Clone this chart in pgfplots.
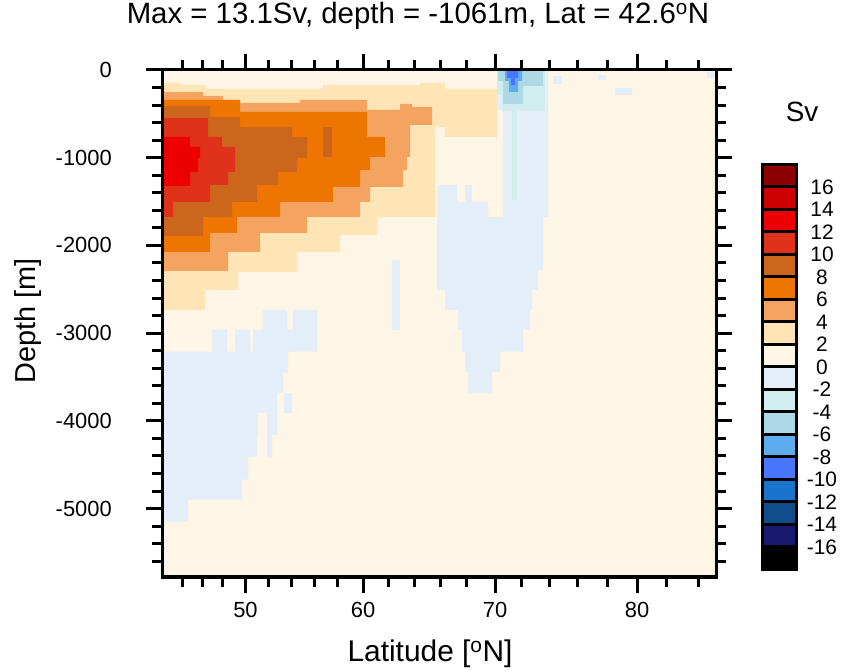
\documentclass[border=0pt]{standalone}
\usepackage{pgfplots}
\pgfplotsset{compat=1.18}
\usepackage{fontspec}
\setmainfont{Liberation Sans}

\definecolor{c0}{HTML}{FDF5E6}
\definecolor{p2}{HTML}{FFE4B5}
\definecolor{p4}{HTML}{F4A460}
\definecolor{p6}{HTML}{EE7600}
\definecolor{p8}{HTML}{CD661D}
\definecolor{p10}{HTML}{E0321A}
\definecolor{p12}{HTML}{EE0000}
\definecolor{p14}{HTML}{CD0000}
\definecolor{p16}{HTML}{8B0000}
\definecolor{n0}{HTML}{E4EEF8}
\definecolor{n2}{HTML}{D1EEEE}
\definecolor{n4}{HTML}{ADD8E6}
\definecolor{n6}{HTML}{5CACEE}
\definecolor{n8}{HTML}{4876FF}
\definecolor{n10}{HTML}{1874CD}
\definecolor{n12}{HTML}{104E8B}
\definecolor{n14}{HTML}{191970}
\definecolor{n16}{HTML}{000000}

\begin{document}
\begin{tikzpicture}
\useasboundingbox (0,0) rectangle (844bp,672bp);
\begin{axis}[
  at={(162bp,95bp)}, anchor=south west,
  scale only axis, width=554bp, height=507bp,
  xmin=162, xmax=716, ymin=-5780, ymax=0,
  axis on top,
  axis line style={line width=3bp},
  every tick/.style={line width=3bp, black},
  tick align=outside,
  major tick length=16bp, minor tick length=10bp,
  xtick={245.5,363,495,637}, xticklabels={50,60,70,80},
  minor xtick={182.5,202.8,222.5,268,291,314,337,388.5,414,440.5,466,521.5,549,577.5,607,666.5,698.7},
  ytick={-5000,-4000,-3000,-2000,-1000,0},
  yticklabels={-5000,-4000,-3000,-2000,-1000,0},
  minor ytick={-5600,-5400,-5200,-4800,-4600,-4400,-4200,-3800,-3600,-3400,-3200,-2800,-2600,-2400,-2200,-1800,-1600,-1400,-1200,-800,-600,-400,-200},
  xticklabel style={font=\fontsize{22}{22}\selectfont, anchor=center, inner sep=0pt, yshift=-17bp},
  yticklabel style={font=\fontsize{22}{22}\selectfont, anchor=east, inner sep=0pt, xshift=-34bp},
  xlabel={Latitude [\textsuperscript{o}N]},
  ylabel={Depth [m]},
  xlabel style={font=\fontsize{30}{30}\selectfont, at={(axis description cs:0.4838,-0.152)}, anchor=center},
  ylabel style={font=\fontsize{29}{29}\selectfont, at={(axis description cs:-0.2419,0.505)}, anchor=center},
  title={Max = 13.1Sv, depth = -1061m, Lat = 42.6\textsuperscript{o}N},
  title style={font=\fontsize{29.5}{29.5}\selectfont, at={(axis description cs:0.462,1.0947)}, anchor=center},
]
% background 0..2
\addplot[fill=c0, draw=none] coordinates {(162,0) (716,0) (716,-5780) (162,-5780)} --cycle;
% -2..0 regions
\addplot[fill=n0, draw=none] coordinates {(162,-3212) (212,-3212) (212,-2961) (227,-2961) (227,-3212) (235,-3212) (235,-2961) (250,-2961) (250,-3212) (253,-3212) (253,-2961) (263,-2961) (263,-2734) (287,-2734) (287,-2961) (293,-2961) (293,-2734) (317,-2734) (317,-3212) (288,-3212) (288,-3451) (283,-3451) (283,-3679) (277,-3679) (277,-3907) (258,-3907) (258,-4157) (257,-4157) (257,-4408) (248,-4408) (248,-4670) (242,-4670) (242,-4898) (188,-4898) (188,-5148) (162,-5148)} --cycle;
\addplot[fill=n0, draw=none] coordinates {(267,-3907) (277,-3907) (277,-4157) (272,-4157) (272,-4408) (267,-4408)} --cycle;
\addplot[fill=n0, draw=none] coordinates {(284,-3679) (292,-3679) (292,-3907) (284,-3907)} --cycle;
\addplot[fill=n0, draw=none] coordinates {(392,-2164) (400,-2164) (400,-2961) (392,-2961)} --cycle;
\addplot[fill=n0, draw=none] coordinates {(497,0) (548,0) (548,-1674) (543,-1674) (543,-2278) (538,-2278) (538,-2506) (532,-2506) (532,-2734) (530,-2734) (530,-2961) (523,-2961) (523,-3212) (500,-3212) (500,-3440) (492,-3440) (492,-3679) (468,-3679) (468,-3440) (465,-3440) (465,-3212) (462,-3212) (462,-2961) (458,-2961) (458,-2734) (445,-2734) (445,-2506) (437,-2506) (437,-1310) (457,-1310) (457,-1503) (488,-1503) (488,-1674) (503,-1674) (503,-456) (497,-456)} --cycle;
\addplot[fill=n0, draw=none] coordinates {(465,-1310) (472,-1310) (472,-1503) (465,-1503)} --cycle;
\addplot[fill=n0, draw=none] coordinates {(553,-68) (562,-68) (562,-160) (553,-160)} --cycle;
\addplot[fill=n0, draw=none] coordinates {(598,-57) (606,-57) (606,-114) (598,-114)} --cycle;
\addplot[fill=n0, draw=none] coordinates {(615,-205) (632,-205) (632,-285) (615,-285)} --cycle;
\addplot[fill=n0, draw=none] coordinates {(707,-23) (714,-23) (714,-91) (707,-91)} --cycle;
% plume
\addplot[fill=n2, draw=none] coordinates {(497,0) (545,0) (545,-467) (517,-467) (517,-1481) (512,-1481) (512,-467) (502,-467) (502,-285) (497,-285)} --cycle;
\addplot[fill=n4, draw=none] coordinates {(498,0) (543,0) (543,-182) (523,-182) (523,-387) (503,-387) (503,-125) (498,-125)} --cycle;
\addplot[fill=n6, draw=none] coordinates {(505,0) (522,0) (522,-125) (518,-125) (518,-250) (509,-250) (509,-125) (505,-125)} --cycle;
\addplot[fill=n8, draw=none] coordinates {(507,0) (518,0) (518,-91) (515,-91) (515,-170) (511,-170) (511,-91) (507,-91)} --cycle;
% 2..4
\addplot[fill=p2, draw=none] coordinates {(162,-148) (180,-148) (180,-171) (205,-171) (205,-216) (323,-216) (323,-171) (420,-171) (420,-148) (445,-148) (445,-216) (497,-216) (497,-763) (445,-763) (445,-649) (435,-649) (435,-1674) (377,-1674) (377,-1879) (340,-1879) (340,-2073) (297,-2073) (297,-2301) (238,-2301) (238,-2506) (205,-2506) (205,-2734) (162,-2734)} --cycle;
% 4..6
\addplot[fill=p4, draw=none] coordinates {(162,-251) (203,-251) (203,-296) (223,-296) (223,-342) (240,-342) (240,-376) (300,-376) (300,-342) (367,-342) (367,-456) (400,-456) (400,-387) (412,-387) (412,-421) (432,-421) (432,-626) (410,-626) (410,-991) (407,-991) (407,-1139) (403,-1139) (403,-1333) (370,-1333) (370,-1503) (360,-1503) (360,-1674) (307,-1674) (307,-1857) (260,-1857) (260,-2073) (228,-2073) (228,-2289) (162,-2289)} --cycle;
% 6..8
\addplot[fill=p6, draw=none] coordinates {(162,-342) (240,-342) (240,-478) (367,-478) (367,-763) (385,-763) (385,-991) (370,-991) (370,-1139) (360,-1139) (360,-1333) (333,-1333) (333,-1503) (280,-1503) (280,-1674) (237,-1674) (237,-1857) (210,-1857) (210,-2073) (162,-2073)} --cycle;
% 8..10
\addplot[fill=p8, draw=none] coordinates {(162,-410) (210,-410) (210,-535) (240,-535) (240,-649) (292,-649) (292,-763) (307,-763) (307,-1002) (297,-1002) (297,-1162) (278,-1162) (278,-1310) (257,-1310) (257,-1503) (232,-1503) (232,-1674) (203,-1674) (203,-1891) (162,-1891)} --cycle;
\addplot[fill=p8, draw=none] coordinates {(323,-649) (332,-649) (332,-991) (323,-991)} --cycle;
% 10..12
\addplot[fill=p10, draw=none] coordinates {(162,-547) (208,-547) (208,-763) (222,-763) (222,-877) (235,-877) (235,-1162) (228,-1162) (228,-1310) (210,-1310) (210,-1503) (173,-1503) (173,-1674) (162,-1674)} --cycle;
% 12..14
\addplot[fill=p12, draw=none] coordinates {(162,-763) (190,-763) (190,-877) (200,-877) (200,-1002) (198,-1002) (198,-1162) (190,-1162) (190,-1321) (162,-1321)} --cycle;
\end{axis}

% colour bar
\begin{axis}[
  at={(762bp,102.5bp)}, anchor=south west,
  scale only axis, width=34bp, height=405bp,
  xmin=0, xmax=1, ymin=0, ymax=18,
  clip=false, axis line style={draw=none},
  xtick=\empty,
  ytick={1,2,3,4,5,6,7,8,9,10,11,12,13,14,15,16,17},
  yticklabels={-16,-14,-12,-10,-8,-6,-4,-2,0,2,4,6,8,10,12,14,16},
  yticklabel pos=right,
  major tick length=0pt,
  yticklabel style={font=\fontsize{21}{21}\selectfont, anchor=center, inner sep=0pt, xshift=26bp},
]
\addplot[fill=n16, draw=black, line width=3bp] coordinates {(0,0) (1,0) (1,1) (0,1)} --cycle;
\addplot[fill=n14, draw=black, line width=3bp] coordinates {(0,1) (1,1) (1,2) (0,2)} --cycle;
\addplot[fill=n12, draw=black, line width=3bp] coordinates {(0,2) (1,2) (1,3) (0,3)} --cycle;
\addplot[fill=n10, draw=black, line width=3bp] coordinates {(0,3) (1,3) (1,4) (0,4)} --cycle;
\addplot[fill=n8, draw=black, line width=3bp] coordinates {(0,4) (1,4) (1,5) (0,5)} --cycle;
\addplot[fill=n6, draw=black, line width=3bp] coordinates {(0,5) (1,5) (1,6) (0,6)} --cycle;
\addplot[fill=n4, draw=black, line width=3bp] coordinates {(0,6) (1,6) (1,7) (0,7)} --cycle;
\addplot[fill=n2, draw=black, line width=3bp] coordinates {(0,7) (1,7) (1,8) (0,8)} --cycle;
\addplot[fill=n0, draw=black, line width=3bp] coordinates {(0,8) (1,8) (1,9) (0,9)} --cycle;
\addplot[fill=c0, draw=black, line width=3bp] coordinates {(0,9) (1,9) (1,10) (0,10)} --cycle;
\addplot[fill=p2, draw=black, line width=3bp] coordinates {(0,10) (1,10) (1,11) (0,11)} --cycle;
\addplot[fill=p4, draw=black, line width=3bp] coordinates {(0,11) (1,11) (1,12) (0,12)} --cycle;
\addplot[fill=p6, draw=black, line width=3bp] coordinates {(0,12) (1,12) (1,13) (0,13)} --cycle;
\addplot[fill=p8, draw=black, line width=3bp] coordinates {(0,13) (1,13) (1,14) (0,14)} --cycle;
\addplot[fill=p10, draw=black, line width=3bp] coordinates {(0,14) (1,14) (1,15) (0,15)} --cycle;
\addplot[fill=p12, draw=black, line width=3bp] coordinates {(0,15) (1,15) (1,16) (0,16)} --cycle;
\addplot[fill=p14, draw=black, line width=3bp] coordinates {(0,16) (1,16) (1,17) (0,17)} --cycle;
\addplot[fill=p16, draw=black, line width=3bp] coordinates {(0,17) (1,17) (1,18) (0,18)} --cycle;
\node[font=\fontsize{28}{28}\selectfont] at (axis description cs:1.18,1.13) {Sv};
\end{axis}
\end{tikzpicture}
\end{document}
